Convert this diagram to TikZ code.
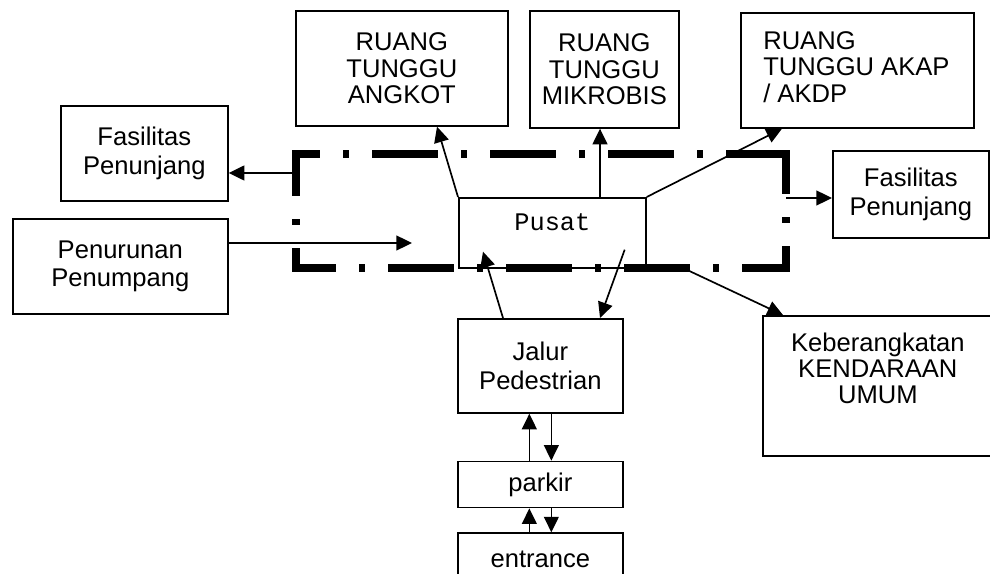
\documentclass[tikz,border=0pt]{standalone}
\usepackage{fontspec}
\setmainfont{Liberation Sans}
\newfontfamily\pusatfont{Liberation Mono}
\usetikzlibrary{positioning,arrows.meta,calc}
\tikzset{
  box/.style={draw,line width=0.42mm,align=center,inner sep=0pt,anchor=north west,font=\fontsize{18.2}{20.6}\selectfont},
  tight/.style={font=\fontsize{18.2}{18.8}\selectfont},
  txt/.style={inner sep=0pt,font=\fontsize{18.2}{18.8}\selectfont},
  arr/.style={-{Triangle[length=3.9mm,width=3.7mm]},line width=0.42mm},
  frame/.style={line width=1.9mm,line join=miter,dash pattern=on 16.5mm off 5.75mm on 1.5mm off 5.75mm}}

\begin{document}
\begin{tikzpicture}[x=0.25mm,y=-0.25mm]
\useasboundingbox (0,0) rectangle (990,574);
% dash-dot frame, two halves from the lower left corner
\draw[frame,dash phase=10.56mm] (296,271.75) -- (296,154) -- (789.75,154);
\draw[frame,dash phase=5.56mm] (292.25,268) -- (786,268) -- (786,150.25);

% rooms round the centre
\node[box,minimum width=41.75mm,minimum height=23.75mm] (fasL) at (60,105) {Fasilitas\\Penunjang};
\node[box,minimum width=53.75mm,minimum height=23.75mm] (pen) at (12,218) {Penurunan\\Penumpang};
\node[box,tight,minimum width=53mm,minimum height=28.75mm] (ang) at (295,10) {RUANG\\TUNGGU\\ANGKOT};
\node[box,tight,minimum width=37.25mm,minimum height=29.25mm] (mik) at (529,10) {RUANG\\TUNGGU\\MIKROBIS};
\node[box,minimum width=58.25mm,minimum height=28.75mm] (akp) at (740,12) {};
\node[txt,align=left,below right=4.8mm and 5.75mm of akp.north west] (akp-t) {RUANG\\TUNGGU AKAP\\/ AKDP};
\node[box,minimum width=46.75mm,minimum height=17.5mm] (pus) at (458,197) {};
\node[txt,font=\pusatfont\fontsize{18}{18.8}\selectfont,below=4mm of pus.north] (pus-t) {Pusat};
\node[box,minimum width=39mm,minimum height=21.75mm] (fasR) at (832,150) {Fasilitas\\Penunjang};
\node[box,minimum width=57.5mm,minimum height=35mm] (kbr) at (762,315) {};
\node[txt,align=center,below=4.3mm of kbr.north] (kbr-t) {Keberangkatan\\KENDARAAN\\UMUM};

% way in
\node[box,minimum width=41.25mm,minimum height=23.5mm] (jal) at (457,318) {Jalur\\Pedestrian};
\node[box,minimum width=41.25mm,minimum height=11.5mm,below=11.75mm of jal] (prk) {parkir};
\node[box,minimum width=41.25mm,minimum height=13mm,below=6mm of prk] (ent) {entrance};

% connectors
\coordinate (fl) at (296,173);
\coordinate (fr) at (786,198);
\coordinate (fb) at (683,268);
\coordinate (pin) at (412,243);
\draw[arr] (fl) -- (fl -| fasL.east);
\draw[arr] (pin -| pen.east) -- (pin);
\draw[arr] (pus.north west) -- ($(ang.south west)+(142,0)$);
\draw[arr] ($(pus.north west)+(142,0)$) -- ($(mik.south west)+(71,0)$);
\draw[arr] (pus.north east) -- ($(akp.south west)+(42,0)$);
\draw[arr] (fr) -- (fr -| fasR.west);
\draw[arr] (fb) -- ($(kbr.north west)+(21,0)$);
\draw[arr] ($(jal.north west)+(46,0)$) -- ($(pus.south west)+(25,-17)$);
\draw[arr] ($(pus.south east)+(-22,-19)$) -- ($(jal.north west)+(143,0)$);
\draw[arr] ($(prk.north)+(-11,0)$) -- ($(jal.south)+(-11,0)$);
\draw[arr] ($(jal.south)+(11,0)$) -- ($(prk.north)+(11,0)$);
\draw[arr] ($(ent.north)+(-11,0)$) -- ($(prk.south)+(-11,0)$);
\draw[arr] ($(prk.south)+(11,0)$) -- ($(ent.north)+(11,0)$);
\end{tikzpicture}
\end{document}
